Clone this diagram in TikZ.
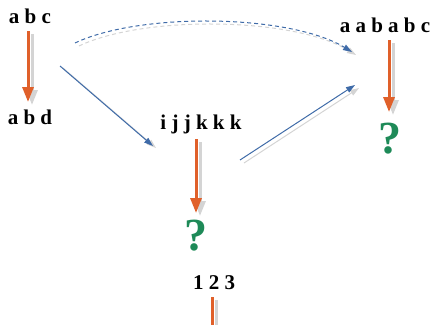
\documentclass[tikz,border=0pt]{standalone}
\usepackage{fontspec}
\setmainfont{Liberation Serif}
\usetikzlibrary{arrows.meta}
\definecolor{orng}{HTML}{E0602A}
\definecolor{blu}{HTML}{3F6BA8}
\definecolor{grn}{HTML}{1E8A58}
\definecolor{shd}{HTML}{D4D4D4}
\tikzset{
  lbl/.style={font=\fontsize{21}{24}\selectfont\bfseries, inner sep=0pt},
  qm/.style={font=\fontsize{46}{50}\selectfont\bfseries, text=grn, inner sep=0pt},
  bigarrow/.style={line width=3pt, draw=orng, -{Triangle[width=11pt,length=15pt]}},
  bigshadow/.style={line width=3pt, draw=shd, -{Triangle[width=11pt,length=15pt]}},
  thinarrow/.style={line width=1pt, draw=blu, -{Triangle[width=6pt,length=9pt]}},
  thinshadow/.style={line width=1pt, draw=shd, -{Triangle[width=6pt,length=9pt]}},
  dsh/.style={dash pattern=on 4pt off 3pt},
  so/.style={shift={(4,3)}},
}
\begin{document}
\begin{tikzpicture}[x=1pt,y=-1pt]
\useasboundingbox (0,0) rectangle (438,324);
% text nodes
\node[lbl] (abc) at (30,16) {a b c};
\node[lbl] (abd) at (30,117) {a b d};
\node[lbl] (ijk) at (201,124) {i j j k k k};
\node[qm] (q1) at (196,236) {?};
\node[lbl] (aab) at (385,25) {a a b a b c};
\node[qm] (q2) at (390,139) {?};
\node[lbl] (n123) at (214,283) {1 2 3};
% arrow endpoints
\coordinate (a1s) at (28,31); \coordinate (a1e) at (28,102);
\coordinate (a2s) at (196,139); \coordinate (a2e) at (196,213);
\coordinate (a3s) at (389,40); \coordinate (a3e) at (389,112);
\coordinate (a4s) at (212,297); \coordinate (a4e) at (212,330);
\coordinate (d1s) at (75,43); \coordinate (d1e) at (352,52);
\coordinate (l1s) at (60,66); \coordinate (l1e) at (153,146);
\coordinate (l2s) at (240,160); \coordinate (l2e) at (355,85);
% shadows
\draw[bigshadow] ([so]a1s) -- ([so]a1e);
\draw[bigshadow] ([so]a2s) -- ([so]a2e);
\draw[bigshadow] ([so]a3s) -- ([so]a3e);
\draw[line width=3pt, draw=shd] ([so]a4s) -- ([so]a4e);
\draw[thinshadow, dsh] ([so]d1s) .. controls (144,15) and (294,17) .. ([so]d1e);
\draw[thinshadow] ([so]l2s) -- ([so]l2e);
\draw[thinshadow] ([shift={(3,2)}]l1s) -- ([shift={(3,2)}]l1e);
% main arrows
\draw[bigarrow] (a1s) -- (a1e);
\draw[bigarrow] (a2s) -- (a2e);
\draw[bigarrow] (a3s) -- (a3e);
\draw[line width=3pt, draw=orng] (a4s) -- (a4e);
\draw[thinarrow, dsh] (d1s) .. controls (140,12) and (290,14) .. (d1e);
\draw[thinarrow] (l1s) -- (l1e);
\draw[thinarrow] (l2s) -- (l2e);
\end{tikzpicture}
\end{document}
